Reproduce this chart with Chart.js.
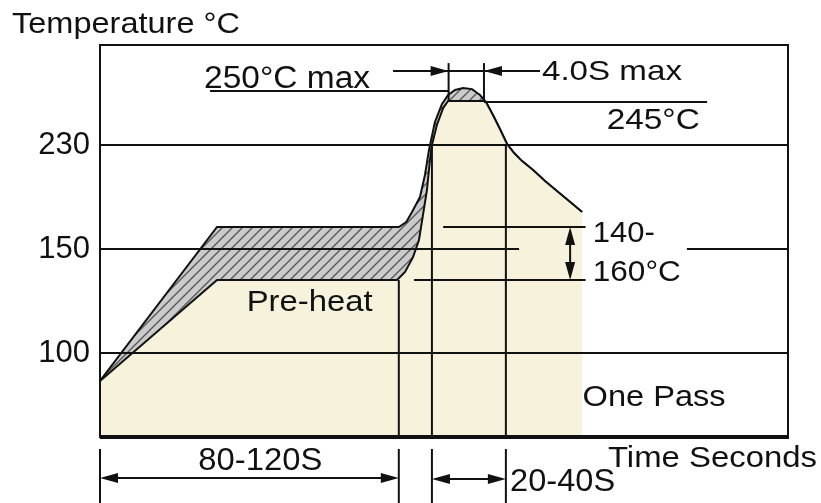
<!DOCTYPE html>
<html>
<head>
<meta charset="utf-8">
<script src="https://cdn.jsdelivr.net/npm/chart.js@4.4.1/dist/chart.umd.min.js"></script>
<style>
  html, body { margin: 0; padding: 0; background: #fff; }
  #wrap { width: 821px; height: 503px; }
</style>
</head>
<body>
<div id="wrap"><canvas id="perfil"></canvas></div>
<script>
// Perfil de soldagem por refusão - tempo (s) x temperatura (°C)
const upperTime = [0, 47, 120, 123, 125.3, 128.5, 130.5, 132.1, 134.5, 137.3, 139.8, 142.6, 145.8, 149.4, 152.6, 155, 157.8, 160.6, 163.5, 166.3, 169.5, 173.9, 178.7, 183.5, 188.8, 193.6];
const upperTemp = [84.7, 160, 160, 164.3, 172.8, 185.6, 204.4, 225.7, 238, 244.3, 248.2, 250.5, 251.4, 250.9, 248.2, 245, 240.5, 235.6, 230.3, 223.2, 216.3, 208.7, 199.3, 190.7, 181.3, 172.8];
const lowerTime = [0, 47, 119.3, 122.5, 125.7, 128.1, 129.7, 131.3, 132.5, 133.3, 135.3, 137.8, 139.8, 154.2, 155, 157.8, 160.6, 163.5, 166.3, 169.5, 173.9, 178.7, 183.5, 188.8, 193.6];
const lowerTemp = [84.7, 140, 140, 142.6, 147.4, 154.1, 170.2, 191.6, 217.2, 230, 237, 242.9, 245.5, 245.5, 245, 240.5, 235.6, 230.3, 223.2, 216.3, 208.7, 199.3, 190.7, 181.3, 172.8];
const yTicks = [100, 150, 230];

const fonte = "'Liberation Sans', Arial, sans-serif";

// eixo de temperatura fora de escala (desenho esquemático): mapa por trechos
const escalaTemp = [100, 140, 150, 160, 230, 245, 250];
const escalaNivel = [1, 1.702, 2, 2.212, 3, 3.413, 3.519];

function nivel(t) {
    const n = escalaTemp.length;
    let i = 0;
    if (t >= escalaTemp[n - 1]) i = n - 2;
    else if (t > escalaTemp[0]) while (t > escalaTemp[i + 1]) i++;
    const f = (t - escalaTemp[i]) / (escalaTemp[i + 1] - escalaTemp[i]);
    return escalaNivel[i] + f * (escalaNivel[i + 1] - escalaNivel[i]);
}

function criarHachura() {
    const c = document.createElement('canvas');
    c.width = 10; c.height = 10;
    const g = c.getContext('2d');
    g.fillStyle = '#cbcbcb';
    g.fillRect(0, 0, 10, 10);
    g.strokeStyle = '#585858';
    g.lineWidth = 1.4;
    g.beginPath();
    g.moveTo(-1, 11); g.lineTo(11, -1);
    g.moveTo(-6, 6); g.lineTo(6, -6);
    g.moveTo(4, 16); g.lineTo(16, 4);
    g.stroke();
    return g.createPattern(c, 'repeat');
}

function texto(ctx, s, x, y, size, largura) {
    ctx.save();
    ctx.font = `${size}px ${fonte}`;
    ctx.textAlign = 'left';
    ctx.textBaseline = 'alphabetic';
    const w = ctx.measureText(s).width;
    ctx.translate(x, y);
    ctx.scale(largura / w, 1);
    ctx.fillText(s, 0, 0);
    ctx.restore();
}

function linha(ctx, x1, y1, x2, y2) {
    ctx.beginPath();
    ctx.moveTo(x1, y1);
    ctx.lineTo(x2, y2);
    ctx.stroke();
}

// ponta de seta: (x,y) é a ponta, (dx,dy) a direção
function seta(ctx, x, y, dx, dy) {
    const L = 18, W = 5;
    ctx.beginPath();
    ctx.moveTo(x, y);
    ctx.lineTo(x - dx * L - dy * W, y - dy * L + dx * W);
    ctx.lineTo(x - dx * L + dy * W, y - dy * L - dx * W);
    ctx.closePath();
    ctx.fill();
}

const anotacoes = {
    id: 'anotacoes',
    afterDatasetsDraw(chart) {
        const { ctx, chartArea: a, scales: { x, y } } = chart;
        const X = t => x.getPixelForValue(t);
        const Y = T => y.getPixelForValue(nivel(T));
        ctx.save();
        ctx.strokeStyle = '#111';
        ctx.fillStyle = '#111';
        ctx.lineWidth = 2;

        // linhas de grade
        linha(ctx, a.left, Y(100), a.right, Y(100));
        linha(ctx, a.left, Y(230), a.right, Y(230));
        linha(ctx, a.left, Y(150), X(168.3), Y(150));
        linha(ctx, X(235.7), Y(150), a.right, Y(150));

        // faixa 140-160
        linha(ctx, X(137.8), Y(160), X(195), Y(160));
        linha(ctx, X(126.1), Y(140), X(195), Y(140));
        linha(ctx, X(188.8), Y(160) + 10, X(188.8), Y(140) - 10);
        seta(ctx, X(188.8), Y(160), 0, -1);
        seta(ctx, X(188.8), Y(140), 0, 1);

        // verticais das fases
        linha(ctx, X(120), Y(140), X(120), a.bottom);
        linha(ctx, X(133.3), Y(230), X(133.3), a.bottom);
        linha(ctx, X(163), Y(230), X(163), a.bottom);

        // pico: 250 max, 245, 4.0S
        linha(ctx, X(44.2), Y(250), X(140), Y(250));
        linha(ctx, X(154.2), Y(245), X(243.8), Y(245));
        linha(ctx, X(140), Y(262.7), X(140), Y(245.9));
        linha(ctx, X(154.2), Y(262.7), X(154.2), Y(245.9));
        linha(ctx, X(117.7), Y(259.1), X(176.7), Y(259.1));
        seta(ctx, X(140), Y(259.1), 1, 0);
        seta(ctx, X(154.2), Y(259.1), -1, 0);

        // cotas abaixo do eixo
        const yc = a.bottom + 12;
        const hBottom = chart.height;
        [0, 120, 133.3, 163].forEach(t => linha(ctx, X(t), yc, X(t), hBottom));
        const y1 = a.bottom + 41;
        linha(ctx, X(0) + 8, y1, X(120) - 8, y1);
        seta(ctx, X(0), y1, -1, 0);
        seta(ctx, X(120), y1, 1, 0);
        const y2 = a.bottom + 42;
        linha(ctx, X(133.3) + 8, y2, X(163) - 8, y2);
        seta(ctx, X(133.3), y2, -1, 0);
        seta(ctx, X(163), y2, 1, 0);

        // moldura
        ctx.strokeRect(a.left, a.top, a.right - a.left, a.bottom - a.top);
        ctx.lineWidth = 4;
        linha(ctx, a.left, a.bottom, a.right + 1, a.bottom);

        // textos
        ctx.fillStyle = '#111';
        texto(ctx, 'Temperature °C', 12, 33, 29, 228);
        texto(ctx, '250°C max', X(41.8), Y(251.4), 31, 166);
        texto(ctx, '4.0S max', X(177.5), Y(255), 28, 140);
        texto(ctx, '245°C', X(203.5), Y(235.6), 29, 93);
        texto(ctx, '140-', X(197.9), Y(153.3), 29, 62);
        texto(ctx, '160°C', X(197.9), Y(139.6), 30, 88);
        texto(ctx, 'Pre-heat', X(58.9), Y(123), 29, 126);
        texto(ctx, 'One Pass', X(193.8), Y(71), 29, 143);
        texto(ctx, '80-120S', X(39.5), a.bottom + 33, 31, 124);
        texto(ctx, '20-40S', X(164.7), a.bottom + 54, 31, 105);
        texto(ctx, 'Time Seconds', 608, a.bottom + 30, 29, 209);
        ctx.restore();
    }
};

const perfilCtx = document.getElementById('perfil');

new Chart(perfilCtx, {
    type: 'line',
    data: {
        datasets: [
            {
                label: 'Mínimo',
                data: lowerTime.map((t, i) => ({ x: t, y: nivel(lowerTemp[i]) })),
                borderColor: '#111',
                borderWidth: 2,
                backgroundColor: '#f7f2dc',
                fill: 'start',
                pointRadius: 0,
                tension: 0
            },
            {
                label: 'Máximo',
                data: upperTime.map((t, i) => ({ x: t, y: nivel(upperTemp[i]) })),
                borderColor: '#111',
                borderWidth: 2,
                backgroundColor: criarHachura(),
                fill: 0,
                pointRadius: 0,
                tension: 0
            }
        ]
    },
    options: {
        responsive: true,
        maintainAspectRatio: false,
        animation: false,
        layout: { padding: { top: 45, right: 33, bottom: 66, left: 0 } },
        plugins: {
            legend: { display: false },
            tooltip: { enabled: false }
        },
        scales: {
            x: { type: 'linear', min: 0, max: 276.3, display: false },
            y: {
                type: 'linear',
                min: nivel(54),
                max: nivel(270.9),
                grid: { display: false, drawTicks: false },
                border: { display: false },
                afterBuildTicks: axis => { axis.ticks = yTicks.map(v => ({ value: nivel(v) })); },
                afterFit: axis => { axis.width = 100; },
                ticks: {
                    callback: (v, i) => yTicks[i],
                    font: { family: fonte, size: 31 },
                    color: '#111',
                    padding: 10
                }
            }
        }
    },
    plugins: [anotacoes]
});
</script>
</body>
</html>
